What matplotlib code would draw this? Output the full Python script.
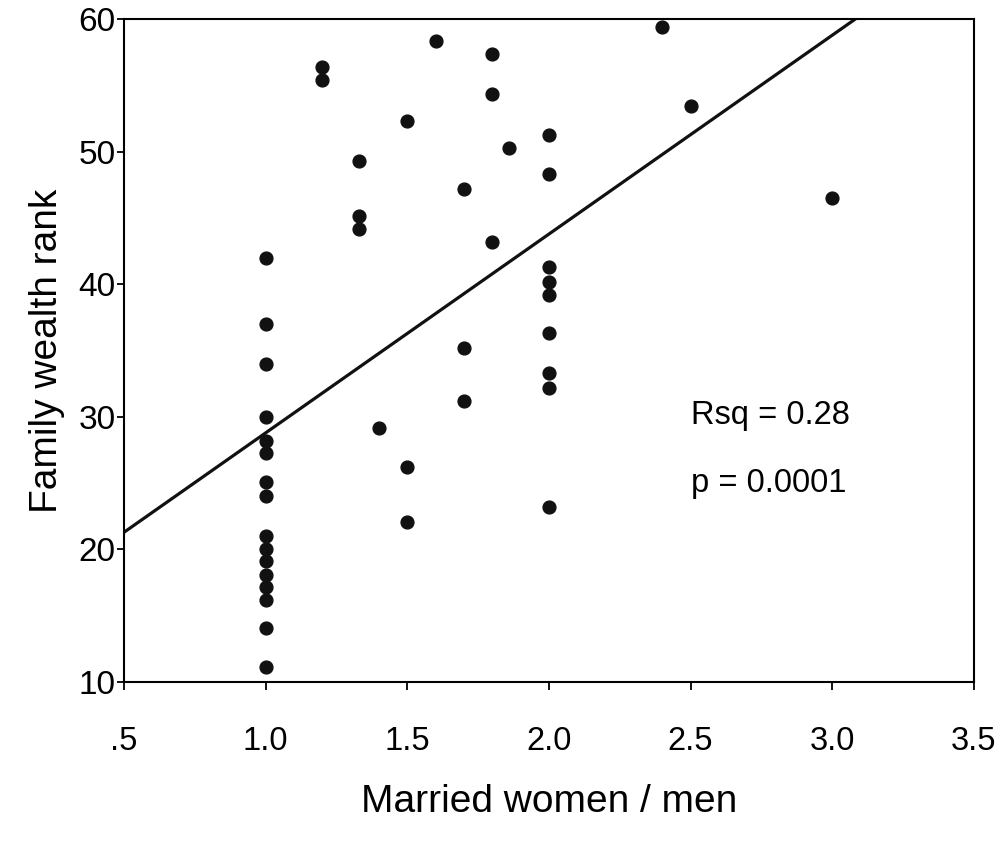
import numpy as np
import matplotlib
matplotlib.use("Agg")
import matplotlib.pyplot as plt

plt.rcParams['font.family'] = ['Liberation Sans', 'DejaVu Sans']

# Married women / men ratio vs family wealth rank
ratio = [1.0] * 16 + [1.2, 1.2, 1.6, 1.8, 1.8, 1.5, 2.0, 1.86, 1.33, 2.0,
                      1.7, 1.33, 1.33, 1.8, 2.0, 2.0, 2.0, 2.0, 2.0, 2.0,
                      2.0, 2.4, 2.5, 1.7, 1.7, 1.4, 1.5, 1.5, 3.0]
wealth_rank = [42, 37, 34, 30, 28.2, 27.3, 25.1, 24, 21, 20, 19.1, 18.1, 17.2, 16.2, 14.1, 11.1,
               56.4, 55.4, 58.4, 57.4, 54.4, 52.3, 51.3, 50.3, 49.3, 48.3,
               47.2, 45.2, 44.2, 43.2, 41.3, 40.2, 39.2, 36.3, 33.3, 32.2,
               23.2, 59.4, 53.5, 35.2, 31.2, 29.2, 26.2, 22.1, 46.5]

# regression line end points as drawn
fit_x = [0.5, 3.08]
fit_y = [21.3, 60.0]

fig = plt.figure(figsize=(10.06, 8.42), dpi=100)
ax = fig.add_axes([0.1233, 0.19, 0.8447, 0.787])

ax.scatter(ratio, wealth_rank, s=85, color="#111111", zorder=3)
ax.plot(fit_x, fit_y, color="#111111", linewidth=2.3)

ax.text(2.5, 30.1, "Rsq = 0.28", fontsize=23.5, va="center", ha="left")
ax.text(2.5, 25.0, "p = 0.0001", fontsize=23.5, va="center", ha="left")

ax.set_xlim(0.5, 3.5)
ax.set_ylim(10, 60)
ax.set_xticks([0.5, 1.0, 1.5, 2.0, 2.5, 3.0, 3.5])
ax.set_xticklabels([".5", "1.0", "1.5", "2.0", "2.5", "3.0", "3.5"])
ax.set_yticks([10, 20, 30, 40, 50, 60])

for s in ax.spines.values():
    s.set_linewidth(1.5)
ax.tick_params(axis="x", direction="out", length=6, width=1.3, pad=26, labelsize=23.5)
ax.tick_params(axis="y", direction="out", length=5, width=1.3, pad=1, labelsize=24)

ax.set_xlabel("Married women / men", fontsize=28, labelpad=19)
ax.set_ylabel("Family wealth rank", fontsize=28, labelpad=10)

plt.savefig("out.png", dpi=100)
